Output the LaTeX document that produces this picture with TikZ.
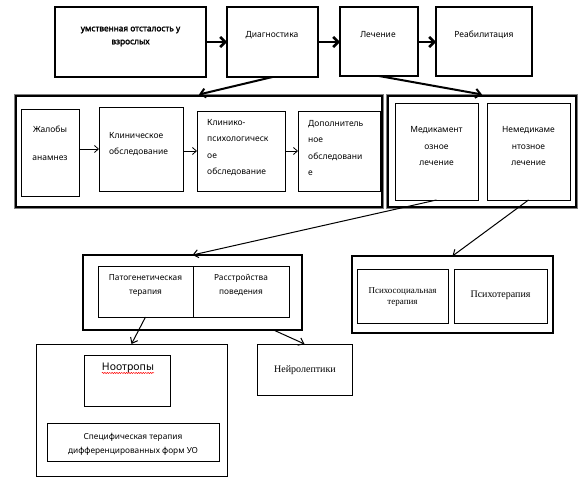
\documentclass[tikz,border=0pt]{standalone}
\usepackage{fontspec}
\setmainfont{Noto Sans}
\newfontfamily\boldsans{Noto Sans}[FakeBold=2.2]
\newfontfamily\serf{Liberation Serif}
\usetikzlibrary{arrows.meta,calc,decorations.pathmorphing}
\begin{document}
\begin{tikzpicture}[x=1pt,y=-1pt,
  box/.style={draw, line width=0.8pt, inner sep=0pt, outer sep=0pt},
  heavy/.style={draw, line width=2.4pt, inner sep=0pt, outer sep=0pt},
  frame/.style={draw, line width=1.8pt, inner sep=0pt, outer sep=0pt},
  frameout/.style={draw, gray, line width=0.5pt, inner sep=0pt, outer sep=0pt},
  txt/.style={inner sep=0pt, align=center, font=\fontsize{8.5}{16}\selectfont},
  ltxt/.style={inner sep=0pt, align=left, anchor=west, font=\fontsize{8.5}{16.3}\selectfont},
  stxt/.style={inner sep=0pt, align=center, font=\serf\fontsize{10}{11}\selectfont},
  bigarrow/.style={line width=2.6pt, -{Straight Barb[length=5pt,width=10pt]}},
  downarrow/.style={line width=2pt, -{Straight Barb[length=5pt,width=9pt]}},
  midarrow/.style={line width=1pt, -{Straight Barb[length=5pt,width=8pt]}},
  smallarrow/.style={line width=0.8pt, -{Straight Barb[length=4pt,width=7pt]}}]
\useasboundingbox[fill=white] (0,0) rectangle (582,487);

% top row
\node[heavy, minimum width=151pt, minimum height=70pt] (b1) at (130.5,42) {};
\node[heavy, minimum width=91pt, minimum height=70pt] (b2) at (272.5,42) {};
\node[heavy, minimum width=78pt, minimum height=69pt] (b3) at (379,41.5) {};
\node[heavy, minimum width=96pt, minimum height=69pt] (b4) at (484,41.5) {};
\node[txt, font=\boldsans\fontsize{8.3}{13}\selectfont] (b1T) at (130.5,36.5) {умственная отсталость у\\взрослых};
\node[txt] (b2T) at (272,35) {Диагностика};
\node[txt] (b3T) at (378,35) {Лечение};
\node[txt] (b4T) at (484,35) {Реабилитация};
\draw[bigarrow] (b1.east) -- (b2.west);
\draw[bigarrow] (b2.east) -- (b3.west |- b2.east);
\draw[bigarrow] (b3.east |- b2.east) -- (b4.west |- b2.east);

% container 1
\node[frameout, minimum width=369pt, minimum height=114pt] (c1o) at (199,151.5) {};
\node[frame, minimum width=366pt, minimum height=111pt] (c1) at (199,151.5) {};
\node[box, minimum width=58pt, minimum height=87pt] (i1) at (50,152.5) {};
\node[box, minimum width=84pt, minimum height=84pt] (i2) at (141,149) {};
\node[box, minimum width=88pt, minimum height=80pt] (i3) at (241,151) {};
\node[box, minimum width=82pt, minimum height=80pt] (i4) at (339,151) {};
\node[txt, font=\fontsize{8.5}{28}\selectfont] (i1T) at (50,143) {Жалобы\\анамнез};
\node[ltxt, font=\fontsize{8.5}{16}\selectfont] (i2T) at (109,144) {Клиническое\\обследование};
\node[ltxt] (i3T) at (207,147.5) {Клинико-\\психологическ\\ое\\обследование};
\node[ltxt] (i4T) at (308,148) {Дополнитель\\ное\\обследовани\\е};
\draw[smallarrow] (i1.east |- i2.west) -- (i2.west);
\draw[smallarrow] (i2.east |- i3.west) -- (i3.west);
\draw[smallarrow] (i3.east) -- (i4.west);

% container 2
\node[frameout, minimum width=191pt, minimum height=114pt] (c2o) at (482,151.5) {};
\node[frame, minimum width=188pt, minimum height=111pt] (c2) at (482,151.5) {};
\node[box, minimum width=83pt, minimum height=97pt] (m1) at (436.5,151.5) {};
\node[box, minimum width=83pt, minimum height=97pt] (m2) at (528.5,151.5) {};
\node[txt, font=\fontsize{8.5}{16.5}\selectfont] (m1T) at (436.5,146.5) {Медикамент\\озное\\лечение};
\node[txt, font=\fontsize{8.5}{16.5}\selectfont] (m2T) at (528.5,146.5) {Немедикаме\\нтозное\\лечение};

\draw[downarrow] (b2.south) -- (c1o.north);
\draw[downarrow] (b3.south) -- (c2o.north);

% container 3
\node[frame, line width=2pt, minimum width=219pt, minimum height=75pt] (c3) at (192.5,292.5) {};
\node[box, minimum width=95pt, minimum height=51pt] (p1) at (145.5,291.5) {};
\node[box, minimum width=96pt, minimum height=51pt] (p2) at (241,291.5) {};
\node[txt, font=\fontsize{8.3}{14}\selectfont] (p1T) at (145.5,286) {Патогенетическая\\терапия};
\node[txt, font=\fontsize{8.3}{14}\selectfont] (p2T) at (241,285) {Расстройства\\поведения};

% container 4
\node[frame, line width=2pt, minimum width=201pt, minimum height=77pt] (c4) at (452.5,294.5) {};
\node[box, minimum width=91pt, minimum height=54pt] (s1) at (402.5,296) {};
\node[box, minimum width=93pt, minimum height=54pt] (s2) at (500.5,296) {};
\node[stxt, font=\serf\fontsize{9}{11}\selectfont] (s1T) at (402.5,297.5) {Психосоциальная\\терапия};
\node[stxt] (s2T) at (500.5,295) {Психотерапия};

\draw[midarrow] (m1.south) -- (c3.north);
\draw[midarrow] (m2.south) -- (c4.north);

% container 5
\node[box, minimum width=191pt, minimum height=132pt] (c5) at (131.5,410) {};
\node[box, minimum width=86pt, minimum height=51pt] (no) at (127,380.5) {};
\node[box, minimum width=172pt, minimum height=38pt] (sp) at (133,442) {};
\node[txt, font=\fontsize{10.5}{12}\selectfont] (noT) at (128,368) {Ноотропы};
\draw[red, line width=0.5pt, decorate, decoration={snake, amplitude=0.6pt, segment length=2.4pt}]
  ([yshift=-2.5pt]noT.base west) -- ([yshift=-2.5pt]noT.base east);
\node[txt, font=\fontsize{8.3}{14}\selectfont] (spT) at (133,444) {Специфическая терапия\\дифференцированных форм УО};

% neuroleptics
\node[box, minimum width=95pt, minimum height=51pt] (n1) at (304.5,369.5) {};
\node[stxt] (n1T) at (305,370) {Нейролептики};

\coordinate (c3x) at ($(c3.south west)!0.87!(c3.south east)$);
\draw[midarrow] (p1.south) -- (c5.north);
\draw[midarrow] (c3x) -- (n1.north);
\end{tikzpicture}
\end{document}
